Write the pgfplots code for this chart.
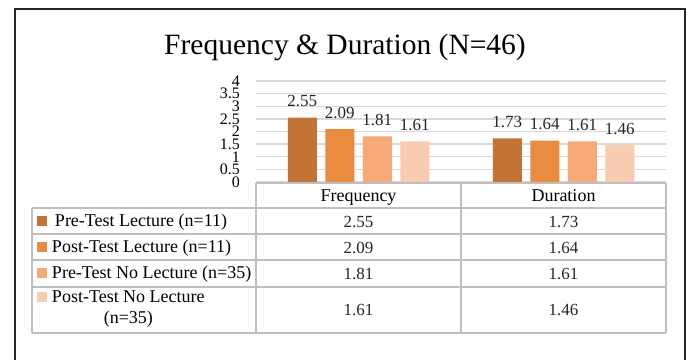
\documentclass[border=0pt]{standalone}
\usepackage{fontspec}
\setmainfont{Liberation Serif}
\usepackage{pgfplots}
\pgfplotsset{compat=1.18}
\definecolor{cA}{RGB}{193,116,54}
\definecolor{cB}{RGB}{233,140,63}
\definecolor{cC}{RGB}{245,170,120}
\definecolor{cD}{RGB}{249,203,177}
\definecolor{gridc}{RGB}{217,217,217}
\definecolor{tabc}{RGB}{191,191,191}
\newcommand{\fs}[1]{\fontsize{#1}{#1}\selectfont}
\pgfplotsset{ybar legend/.style={legend image code/.code={\fill[##1,draw=none] (0pt,1pt) rectangle (10pt,11pt);}}}
\begin{document}
\begin{tikzpicture}[x=1pt,y=1pt]
\useasboundingbox (0,0) rectangle (695,-359);
\fill[white] (0,0) rectangle (695,-359);
\draw[line width=2.5pt,black!85] (15,-365) -- (15,-9) -- (685,-9) -- (685,-365);
\node[anchor=base,font=\fs{29.5},inner sep=0pt] at (345,-54) {Frequency \& Duration (N=46)};
\begin{axis}[
  at={(256pt,-182pt)}, anchor=south west,
  scale only axis, width=410pt, height=101pt,
  xmin=-0.5, xmax=1.5, ymin=0, ymax=4,
  ytick={0,0.5,...,4},
  xtick={0,1}, xticklabels={Frequency,Duration},
  axis line style={draw=none},
  major tick length=0pt,
  ymajorgrids, grid style={gridc, line width=1.3pt},
  ybar=8.5pt, bar width=29pt,
  /pgf/number format/assume math mode=true,
  yticklabel style={font=\fs{16}, inner sep=0pt, anchor=east, xshift=-16pt},
  xticklabel style={font=\fs{18}, inner sep=0pt, anchor=base, yshift=-19pt},
  nodes near coords={\pgfmathprintnumber[fixed,fixed zerofill,precision=2]{\pgfplotspointmeta}},
  nodes near coords style={font=\fs{17}, inner sep=0pt, anchor=base, yshift=11pt, black!85},
  legend style={at={(axis description cs:-0.53415,-0.25666)}, anchor=north west,
    draw=none, fill=none, inner sep=0pt, outer sep=0pt, row sep=0pt, column sep=5pt,
    font=\fs{18}, nodes={inner sep=0pt, outer sep=0pt, text height=19pt, text depth=7pt}},
  legend cell align=left,
]
\addplot[fill=cA, draw=none] coordinates {(0,2.55) (1,1.73)};
\addlegendentry[anchor=base west]{\hspace{3pt}Pre-Test Lecture (n=11)}
\addplot[fill=cB, draw=none] coordinates {(0,2.09) (1,1.64)};
\addlegendentry[anchor=base west]{Post-Test Lecture (n=11)}
\addplot[fill=cC, draw=none] coordinates {(0,1.81) (1,1.61)};
\addlegendentry[anchor=base west]{Pre-Test No Lecture (n=35)}
\addplot[fill=cD, draw=none] coordinates {(0,1.61) (1,1.46)};
\addlegendentry[anchor=base west, text height=17pt, text depth=29pt]{\fontsize{18}{21}\selectfont\begin{tabular}[t]{@{}c@{}}Post-Test No Lecture\\(n=35)\end{tabular}}
\end{axis}
\begin{scope}[tabc, line width=1.3pt]
\draw (256,-183) -- (666,-183);
\foreach \yy in {208,234,260,287,333} \draw (32,-\yy) -- (666,-\yy);
\draw (32,-208) -- (32,-333);
\draw (256,-183) -- (256,-333);
\draw (461,-183) -- (461,-333);
\draw (666,-183) -- (666,-333);
\end{scope}
\begin{scope}[every node/.style={anchor=base, font=\fs{17}, inner sep=0pt, black!85}]
\node at (358.5,-227) {2.55}; \node at (563.5,-227) {1.73};
\node at (358.5,-253) {2.09}; \node at (563.5,-253) {1.64};
\node at (358.5,-279) {1.81}; \node at (563.5,-279) {1.61};
\node at (358.5,-315) {1.61}; \node at (563.5,-315) {1.46};
\end{scope}
\end{tikzpicture}
\end{document}
